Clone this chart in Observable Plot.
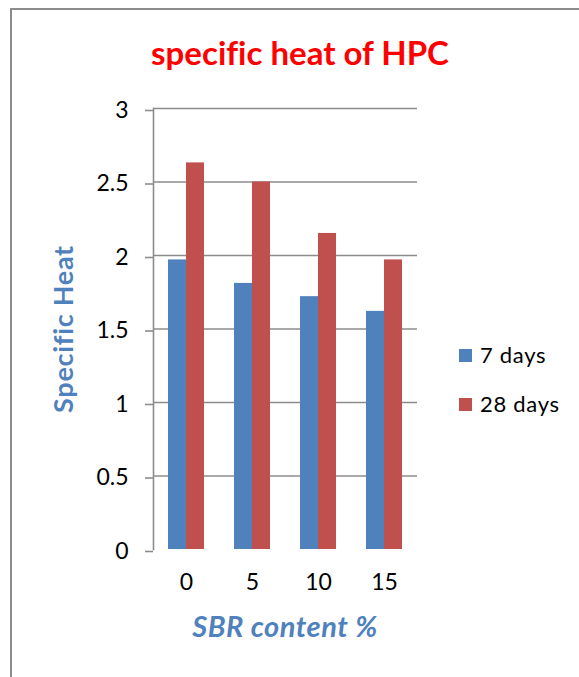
<!DOCTYPE html>
<html>
<head>
<meta charset="utf-8">
<script src="https://cdn.jsdelivr.net/npm/d3@7"></script>
<script src="https://cdn.jsdelivr.net/npm/@observablehq/plot@0.6"></script>
<style>
html, body { margin: 0; padding: 0; background: #fff; overflow: hidden; }
#wrap { position: relative; width: 579px; height: 677px; overflow: hidden; font-family: Lato, "Open Sans", sans-serif; font-variant-ligatures: none; }
#frame { position: absolute; left: 10px; top: 8px; width: 700px; height: 800px; border: 2px solid #8c8c8c; box-sizing: border-box; }
#chart { position: absolute; left: 0; top: 0; }
.t { position: absolute; white-space: nowrap; line-height: 1; }
#title { left: 300px; top: 36px; transform: translateX(-50%); font-size: 33px; font-weight: bold; color: #ff0000; }
#xlabel { left: 285px; top: 611px; transform: translateX(-50%); font-size: 29px; font-weight: bold; font-style: italic; color: #4f81bd; letter-spacing: 0.5px; }
#ylabel { left: 62px; top: 329px; transform: translate(-50%, -50%) rotate(-90deg); font-size: 27px; font-weight: bold; color: #4f81bd; letter-spacing: 0.7px; }
.sw { position: absolute; width: 13px; height: 13px; }
.lt { position: absolute; font-size: 22px; line-height: 1; color: #000; white-space: nowrap; letter-spacing: 0.7px; }
</style>
</head>
<body>
<div id="wrap">
  <div id="frame"></div>
  <div id="chart"></div>
  <div class="t" id="title"></div>
  <div class="t" id="ylabel"></div>
  <div class="t" id="xlabel"></div>
</div>
<script>
// ---- data ----
const categories = ["0", "5", "10", "15"];
const seriesNames = ["7 days", "28 days"];
const days7 = [1.97, 1.81, 1.72, 1.62];
const days28 = [2.63, 2.50, 2.15, 1.97];
const seriesColors = ["#4F81BD", "#C0504D"];
const yTicks = [0, 0.5, 1, 1.5, 2, 2.5, 3];
const titleText = "specific heat of HPC";
const yLabelText = "Specific Heat";
const xLabelText = "SBR content %";

const rows = categories.flatMap((c, i) => [
  {sbr: c, series: seriesNames[0], value: days7[i]},
  {sbr: c, series: seriesNames[1], value: days28[i]}
]);

const chart = Plot.plot({
  width: 579,
  height: 677,
  marginTop: 108,
  marginBottom: 128,
  marginLeft: 153,
  marginRight: 162,
  style: {fontFamily: "Lato, 'Open Sans', sans-serif", fontSize: "23px", background: "transparent", color: "#000", overflow: "visible"},
  fx: {domain: categories, padding: 0, label: null},
  x: {domain: seriesNames, paddingInner: 0, paddingOuter: 0.74, axis: null},
  y: {domain: [0, 3], label: null},
  color: {domain: seriesNames, range: seriesColors},
  marks: [
    Plot.gridY(yTicks.slice(1), {stroke: "#8c8c8c", strokeOpacity: 1, strokeWidth: 1.6}),
    Plot.barY(rows, {fx: "sbr", x: "series", y: "value", fill: "series"}),
    Plot.frame({anchor: "left", facetAnchor: "left", stroke: "#8c8c8c", strokeWidth: 1.6}),
    Plot.axisY({ticks: yTicks, tickSize: 8, tickPadding: 17, tickFormat: d => String(d), label: null, stroke: "#8c8c8c", strokeWidth: 1.6, strokeOpacity: 1, fill: "#000", dy: 2}),
    Plot.axisFx({anchor: "bottom", tickSize: 0, tickPadding: 24, label: null, fill: "#000"})
  ]
});
document.getElementById("chart").appendChild(chart);

document.getElementById("title").textContent = titleText;
document.getElementById("ylabel").textContent = yLabelText;
document.getElementById("xlabel").textContent = xLabelText;

// legend
const wrap = document.getElementById("wrap");
const legendTops = [349, 398];
seriesNames.forEach((name, i) => {
  const sw = document.createElement("div");
  sw.className = "sw";
  sw.style.left = "459px";
  sw.style.top = legendTops[i] + "px";
  sw.style.background = seriesColors[i];
  wrap.appendChild(sw);
  const lt = document.createElement("div");
  lt.className = "lt";
  lt.style.left = "480px";
  lt.style.top = (legendTops[i] - 5.5) + "px";
  lt.textContent = name;
  wrap.appendChild(lt);
});
</script>
</body>
</html>
